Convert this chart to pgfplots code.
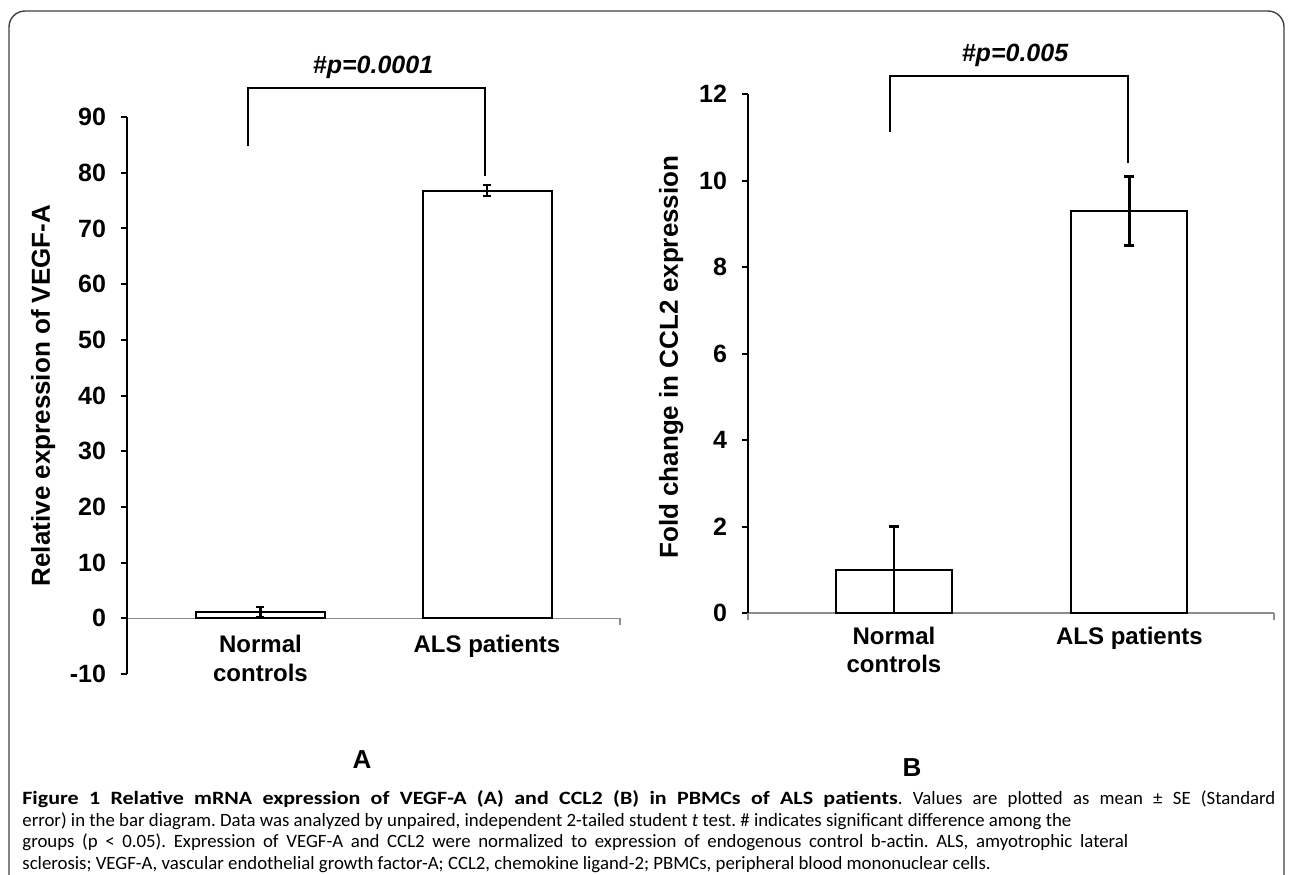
\documentclass[border=0pt]{standalone}
\usepackage{fontspec}
\setmainfont{Liberation Sans}
\newfontfamily\capfont{Carlito}
\newfontfamily\capboldfont[FakeStretch=1.17]{Carlito}
\usepackage{pgfplots}
\pgfplotsset{compat=1.18}
\definecolor{axgray}{HTML}{8C8C8C}
\definecolor{framegray}{HTML}{404040}
\begin{document}
\begin{tikzpicture}
\path[use as bounding box] (0,0) rectangle (645pt,-437pt);
\draw[line width=0.7pt, rounded corners=8pt, framegray] (4.5pt,-5.5pt) rectangle (642pt,-470pt);

% ---------------- Panel A ----------------
\begin{axis}[
  at={(63.5pt,-337pt)}, anchor=south west,
  scale only axis, width=246.5pt, height=278.5pt,
  xmin=-0.589, xmax=1.587, ymin=-10, ymax=90,
  axis y line=left, axis x line=middle,
  hide obscured x ticks=false, hide obscured y ticks=false,
  y axis line style={-, line width=1pt, black},
  x axis line style={-, line width=0.6pt, axgray},
  ytick={-10,0,10,20,30,40,50,60,70,80,90},
  ytick style={line width=1pt, black},
  tick align=outside, major tick length=3pt,
  xtick={0,1}, xticklabels={Normal\\controls, ALS patients},
  x tick style={draw=none},
  xticklabel style={align=center, anchor=north, inner sep=0pt, yshift=-5pt,
    font=\fontsize{12}{14.5}\selectfont\bfseries},
  yticklabel style={xshift=-4pt, font=\fontsize{12.5}{14}\selectfont\bfseries},
  /pgf/number format/assume math mode=true,
  clip=false,
]
\addplot[ybar, bar width=64.5pt, fill=white, draw=black, line width=1pt,
  error bars/.cd, y dir=both, y explicit,
  error bar style={line width=1.3pt, black},
  error mark options={rotate=90, mark size=2pt, line width=1.3pt, black}]
  coordinates {(0,1.1) +- (0,0.9) (1,76.8) +- (0,1.0)};
\draw[axgray, line width=0.6pt] (axis cs:1.587,0) -- ++(0pt,-3.5pt);
\draw[line width=1pt] (axis cs:-0.055,84.8) -- (axis cs:-0.055,95.2) -- (axis cs:0.99,95.2) -- (axis cs:0.99,79.4);
\node[font=\fontsize{12.5}{14}\selectfont\bfseries\itshape] at (axis cs:0.497,98.9) {\#p=0.0001};
\node[rotate=90, font=\fontsize{13}{15}\selectfont\bfseries] at (axis description cs:-0.17,0.5) {Relative expression of VEGF-A};
\end{axis}

% ---------------- Panel B ----------------
\begin{axis}[
  at={(374pt,-306.5pt)}, anchor=south west,
  scale only axis, width=263pt, height=259.5pt,
  xmin=-0.62, xmax=1.614, ymin=0, ymax=12,
  axis y line=left, axis x line=bottom,
  hide obscured x ticks=false, hide obscured y ticks=false,
  y axis line style={-, line width=1pt, black},
  x axis line style={-, line width=0.6pt, axgray},
  ytick={0,2,4,6,8,10,12},
  ytick style={line width=1pt, black},
  tick align=outside, major tick length=3pt,
  xtick={0,1}, xticklabels={Normal\\controls, ALS patients},
  x tick style={draw=none},
  xticklabel style={align=center, anchor=north, inner sep=0pt, yshift=-4pt,
    font=\fontsize{12}{14}\selectfont\bfseries},
  yticklabel style={xshift=-4pt, font=\fontsize{12.5}{14}\selectfont\bfseries},
  /pgf/number format/assume math mode=true,
  clip=false,
]
\addplot[ybar, bar width=58pt, fill=white, draw=black, line width=1pt,
  error bars/.cd, y dir=both, y explicit,
  error bar style={line width=1.4pt, black},
  error mark options={rotate=90, mark size=2.5pt, line width=1.4pt, black}]
  coordinates {(0,1.0) +- (0,1.0) (1,9.3) +- (0,0.8)};
\draw[axgray, line width=0.6pt] (axis cs:-0.62,0) -- ++(0pt,-3.5pt);
\draw[axgray, line width=0.6pt] (axis cs:1.614,0) -- ++(0pt,-3.5pt);
\draw[line width=1pt] (axis cs:-0.017,11.12) -- (axis cs:-0.017,12.42) -- (axis cs:0.994,12.42) -- (axis cs:0.994,10.4);
\node[font=\fontsize{12.5}{14}\selectfont\bfseries\itshape] at (axis cs:0.514,12.9) {\#p=0.005};
\node[rotate=90, font=\fontsize{13}{15}\selectfont\bfseries] at (axis description cs:-0.146,0.493) {Fold change in CCL2 expression};
\end{axis}

% ---------------- Panel letters ----------------
\node[font=\fontsize{13}{15}\selectfont\bfseries] at (181pt,-380pt) {A};
\node[font=\fontsize{13}{15}\selectfont\bfseries] at (456pt,-384pt) {B};

% ---------------- Caption ----------------
\node[anchor=north west, inner sep=0pt, font=\capfont\fontsize{9.4}{10.8}\selectfont] at (11pt,-394.5pt) {%
\frenchspacing\renewcommand\arraystretch{1}%
\begin{tabular}{@{}l@{}}
\hbox to 626.5pt{\spaceskip=0.23em plus 2em\relax{\capboldfont\bfseries Figure 1 Relative mRNA expression of VEGF-A (A) and CCL2 (B) in PBMCs of ALS patients}. Values are plotted as mean ± SE (Standard}\\
error) in the bar diagram. Data was analyzed by unpaired, independent 2-tailed student \textit{t} test. \# indicates significant difference among the\\
\hbox to 553pt{\spaceskip=0.23em plus 2em\relax groups (p < 0.05). Expression of VEGF-A and CCL2 were normalized to expression of endogenous control b-actin. ALS, amyotrophic lateral}\\
sclerosis; VEGF-A, vascular endothelial growth factor-A; CCL2, chemokine ligand-2; PBMCs, peripheral blood mononuclear cells.
\end{tabular}};
\end{tikzpicture}
\end{document}
